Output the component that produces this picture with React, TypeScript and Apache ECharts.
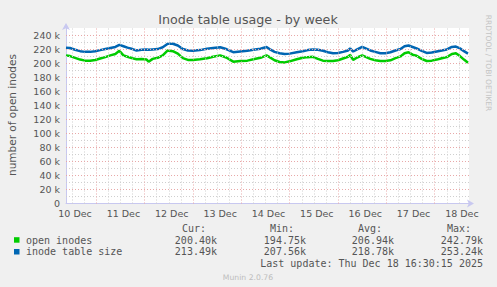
import React, { useEffect, useRef } from 'react';
import * as echarts from 'echarts';

// hours since 10 Dec 00:00
const times = [9, 11, 13.5, 16, 18.5, 21, 23.5, 26, 28.5, 31, 33.5, 35.5, 37.5, 39.5, 42, 44, 46.5, 49, 50, 52, 54.5, 57, 59.5, 62, 64.5, 67, 69.5, 72, 75.5, 79, 82, 85.5, 88.5, 92, 95.5, 99, 102, 105.5, 108.5, 110, 112.5, 115, 117.5, 120, 123.5, 126.5, 129, 131.5, 134, 136.5, 139, 141.5, 144, 146.5, 149, 150, 151.5, 153.5, 156, 158, 160, 162.5, 165, 167.5, 170, 172.5, 175, 177, 179, 181, 183, 185.5, 188, 190.5, 193, 195.5, 198, 200.5, 202.5, 204.5, 206.5, 208.5];

// thousands of inodes
const tableSize = [222, 221.5, 219, 217, 216, 216, 217, 218.5, 220, 221.5, 223, 226, 224, 222, 220, 218, 219, 219.5, 219, 219.5, 220, 222.5, 227.5, 227.5, 225, 220, 218, 217.5, 218.5, 220.5, 221.5, 222.5, 220, 215.5, 216.5, 217.5, 219, 220.5, 223, 220, 216, 214, 213, 213.5, 215.5, 217, 218.5, 219.5, 219, 217.5, 215.5, 214, 214.5, 216, 218, 221, 216.5, 219.5, 223, 220.5, 218, 216, 214, 214, 215.5, 218, 220, 224, 225, 223, 221, 217.5, 214.5, 215, 216.5, 218, 219.5, 223, 223.5, 221, 217, 213.5];

const openInodes = [211, 210, 207.5, 205, 203.5, 203.5, 204.5, 206.5, 208.5, 211, 213, 217.5, 211, 209, 207, 205.5, 206, 205, 202, 206, 207.5, 211, 218, 217, 213.5, 207, 204.5, 204.5, 205.5, 207, 209, 211, 208, 202, 203, 203.5, 205.5, 207.5, 211, 208.5, 204, 201.5, 201, 202.5, 205.5, 207.5, 208.5, 209, 206, 203.5, 203, 203, 204, 206.5, 209, 211.5, 204.5, 208, 211, 208.5, 206, 204, 203, 203, 204, 207, 209.5, 214, 215.5, 212, 210.5, 206, 203, 203.5, 205, 207, 208.5, 213, 214, 210, 205, 200.4];

const dayLabels = ['10 Dec', '11 Dec', '12 Dec', '13 Dec', '14 Dec', '15 Dec', '16 Dec', '17 Dec', '18 Dec'];
const dayLabelHours = [12, 36, 60, 84, 108, 132, 156, 180, 204];
const yTickValues = [0, 20, 40, 60, 80, 100, 120, 140, 160, 180, 200, 220, 240];

const legendNames = ['open inodes', 'inode table size'];
const legendColors = ['#00cc00', '#0066b3'];
const curValues = ['200.40k', '213.49k'];
const minValues = ['194.75k', '207.56k'];
const avgValues = ['206.94k', '218.78k'];
const maxValues = ['242.79k', '253.24k'];

const X_MIN = 9;
const X_MAX = 209;
const Y_MAX = 250;

const TEXT = '#555555';
const MAJOR = '#e8a8a8';
const MINOR = '#cfcfcf';
const AXIS = '#c8c8f0';

function txt(text: string, x: number, y: number, font: string, fill: string, align: string, extra: any = {}) {
  return {
    type: 'text',
    x,
    y,
    silent: true,
    ...extra,
    style: {
      text,
      font,
      fill,
      align,
      textAlign: align,
      verticalAlign: 'middle',
      textVerticalAlign: 'middle',
    },
  };
}

export default function App() {
  const ref = useRef<HTMLDivElement>(null);

  useEffect(() => {
    document.body.style.margin = '0';
    if (!ref.current) return;
    const chart = echarts.init(ref.current, null, { renderer: 'svg' });

    const majorY = yTickValues.filter((v) => v > 0);
    const minorY: number[] = [];
    for (let v = 10; v < Y_MAX; v += 20) minorY.push(v);
    const majorX: number[] = [];
    const minorX: number[] = [];
    for (let h = 12; h < X_MAX; h += 6) {
      if (h % 24 === 0) majorX.push(h);
      else minorX.push(h);
    }

    const gridLines = [
      ...minorY.map((v) => ({ yAxis: v, lineStyle: { color: MINOR } })),
      ...minorX.map((v) => ({ xAxis: v, lineStyle: { color: MINOR } })),
      ...majorY.map((v) => ({ yAxis: v, lineStyle: { color: MAJOR } })),
      ...majorX.map((v) => ({ xAxis: v, lineStyle: { color: MAJOR } })),
    ];

    const mono = '10px "DejaVu Sans Mono"';
    const graphics: any[] = [
      txt('Inode table usage - by week', 248, 19, '12.7px "DejaVu Sans"', TEXT, 'center'),
      txt('number of open inodes', 12, 115, '10.5px "DejaVu Sans"', TEXT, 'center', { rotation: Math.PI / 2 }),
      txt('RRDTOOL / TOBI OETIKER', 488, 63, '7.5px "DejaVu Sans"', '#c4c4c4', 'center', { rotation: -Math.PI / 2 }),
      txt('Cur:', 206, 228, mono, TEXT, 'right'),
      txt('Min:', 294, 228, mono, TEXT, 'right'),
      txt('Avg:', 382, 228, mono, TEXT, 'right'),
      txt('Max:', 471, 228, mono, TEXT, 'right'),
      txt('Last update: Thu Dec 18 16:30:15 2025', 483, 263.5, mono, TEXT, 'right'),
      txt('Munin 2.0.76', 248, 277, '7.7px "DejaVu Sans"', '#bdbdbd', 'center'),
    ];
    legendNames.forEach((name, i) => {
      const y = 240 + i * 11.8;
      graphics.push({
        type: 'rect',
        silent: true,
        shape: { x: 14, y: y - 2.8, width: 5.5, height: 5.5 },
        style: { fill: legendColors[i] },
      });
      graphics.push(txt(name, 26, y, mono, TEXT, 'left'));
      graphics.push(txt(curValues[i], 217, y, mono, TEXT, 'right'));
      graphics.push(txt(minValues[i], 306, y, mono, TEXT, 'right'));
      graphics.push(txt(avgValues[i], 394, y, mono, TEXT, 'right'));
      graphics.push(txt(maxValues[i], 483, y, mono, TEXT, 'right'));
    });

    chart.setOption({
      animation: false,
      backgroundColor: '#f0f0f0',
      textStyle: { fontFamily: 'DejaVu Sans' },
      grid: {
        left: 66,
        right: 28,
        top: 28,
        bottom: 83.5,
        show: true,
        backgroundColor: '#ffffff',
        borderWidth: 0,
      },
      xAxis: {
        type: 'value',
        min: X_MIN,
        max: X_MAX,
        splitLine: { show: false },
        axisTick: { show: false },
        axisLine: {
          show: true,
          lineStyle: { color: AXIS, width: 1 },
          symbol: ['none', 'arrow'],
          symbolSize: [6, 7],
          symbolOffset: [0, 5],
        },
        axisLabel: {
          customValues: dayLabelHours,
          formatter: (v: number) => dayLabels[Math.round((v - 12) / 24)] ?? '',
          color: TEXT,
          fontSize: 9.5,
          fontFamily: 'DejaVu Sans',
          margin: 5,
          padding: [0, 0, 0, 6],
        },
      },
      yAxis: {
        type: 'value',
        min: 0,
        max: Y_MAX,
        splitLine: { show: false },
        axisTick: { show: false },
        axisLine: {
          show: true,
          lineStyle: { color: AXIS, width: 1 },
          symbol: ['none', 'arrow'],
          symbolSize: [6, 7],
          symbolOffset: [0, 5],
        },
        axisLabel: {
          customValues: yTickValues,
          formatter: (v: number) => (v === 0 ? '0' : `${v} k`),
          color: TEXT,
          fontSize: 9.5,
          fontFamily: 'DejaVu Sans',
          margin: 6,
        },
      },
      graphic: graphics,
      series: [
        {
          type: 'line',
          data: [],
          silent: true,
          z: 1,
          markLine: {
            silent: true,
            symbol: ['none', 'none'],
            label: { show: false },
            lineStyle: { type: [1, 2], width: 1 },
            emphasis: { disabled: true },
            data: gridLines,
          },
        },
        {
          name: legendNames[0],
          type: 'line',
          z: 3,
          showSymbol: false,
          data: times.map((t, i) => [t, openInodes[i]]),
          lineStyle: { color: legendColors[0], width: 2.5 },
          itemStyle: { color: legendColors[0] },
        },
        {
          name: legendNames[1],
          type: 'line',
          z: 3,
          showSymbol: false,
          data: times.map((t, i) => [t, tableSize[i]]),
          lineStyle: { color: legendColors[1], width: 2.5 },
          itemStyle: { color: legendColors[1] },
        },
      ],
    });

    return () => chart.dispose();
  }, []);

  return <div ref={ref} style={{ width: 497, height: 287 }} />;
}
